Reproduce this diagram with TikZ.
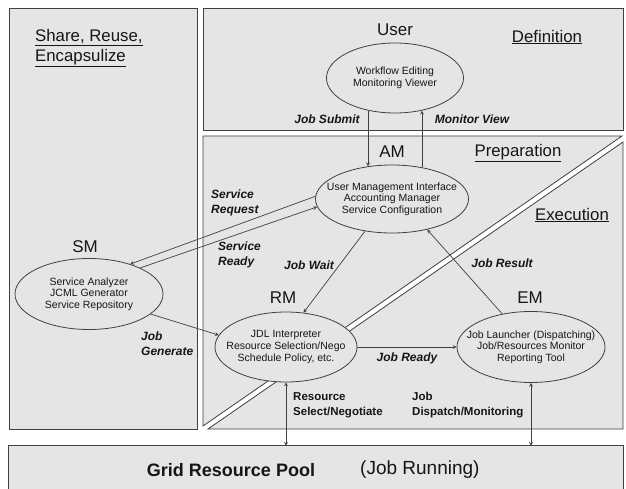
\documentclass[tikz,border=0pt]{standalone}
\usepackage{fontspec}
\setmainfont{Liberation Sans}
\usepackage{tikz}
\usetikzlibrary{shapes}
\usetikzlibrary{arrows}
\usetikzlibrary{positioning}
\definecolor{fond}{HTML}{E5E5E5}
\definecolor{trait}{HTML}{404040}
\definecolor{encre}{HTML}{161616}
\tikzstyle{panel}=[fill=fond,draw=trait,line width=0.8pt]
\tikzstyle{module}=[
        ellipse,
        draw=trait,
        fill=fond,
        line width=0.8pt,
        text=encre,
        inner xsep=-20pt,
        inner ysep=0pt,
        align=center,
        font=\fontsize{10.5}{11.7}\selectfont
]
\tikzstyle{heading}=[text=encre,inner sep=0pt,font=\fontsize{17}{20}\selectfont]
\tikzstyle{section}=[text=encre,inner sep=0pt,align=left,font=\fontsize{16.8}{20}\selectfont]
\tikzstyle{flowlabel}=[text=encre,inner sep=0pt,align=left,font=\fontsize{12}{15}\selectfont\bfseries\itshape]
\tikzstyle{access}=[text=encre,inner sep=0pt,align=left,font=\fontsize{11.5}{15}\selectfont\bfseries]
\tikzstyle{suite}=[->,>=stealth,draw=trait,line width=0.7pt]
\tikzstyle{twoway}=[<->,>=stealth,draw=trait,line width=0.7pt]

\begin{document}
\begin{tikzpicture}[x=1pt,y=-1pt]
\useasboundingbox (0,0) rectangle (626,489);
%Panels
\draw[panel] (9,8) rectangle (197,429);
\draw[panel] (203,8) rectangle (623,130);
\draw[panel] (203,136) -- (622,136) -- (203,426) -- cycle;
\draw[panel] (623,142) -- (623,429) -- (208,429) -- cycle;
\node[fill=fond,minimum width=614pt,minimum height=50pt,inner sep=0pt] (grid) at (316,471) {};
\draw[draw=trait,line width=0.8pt] (grid.south west) |- (grid.north east) -- (grid.south east);
%Titles
\node[section,anchor=west] (share) at (35,48) {\underline{Share, Reuse,}\\\underline{Encapsulize}};
\node[section] (definition) at (547,37) {\underline{Definition}};
\node[section] (preparation) at (518,153) {\underline{Preparation}};
\node[section] (execution) at (572,215) {\underline{Execution}};
\node[heading] (userhead) at (395,30) {User};
\node[heading] (amhead) at (392,152) {AM};
\node[heading] (smhead) at (85,247) {SM};
\node[heading] (rmhead) at (283,298) {RM};
\node[heading] (emhead) at (530,298) {EM};
%Modules
\node[module,minimum width=137pt,minimum height=70pt] (user) at (395,78) {Workflow Editing\\Monitoring Viewer};
\node[module,minimum width=153pt,minimum height=68pt] (am) at (392,199) {User Management Interface\\Accounting Manager\\Service Configuration};
\node[module,minimum width=148pt,minimum height=71pt] (sm) at (89,294) {Service Analyzer\\JCML Generator\\Service Repository};
\node[module,minimum width=142pt,minimum height=70pt] (rm) at (286,347) {JDL Interpreter\\Resource Selection/Nego\\Schedule Policy, etc.};
\node[module,minimum width=148pt,minimum height=71pt] (em) at (531,347) {Job Launcher (Dispatching)\\Job/Resources Monitor\\Reporting Tool};
%Drawing Edges
\draw[suite] ([xshift=-27pt,yshift=2.8pt]user.south) -- ([xshift=-24pt,yshift=-1.7pt]am.north);
\draw[suite] ([xshift=30pt,yshift=-2.7pt]am.north) -- ([xshift=27pt,yshift=2.8pt]user.south);
\draw[suite] (sm.27) -- (am.186);
\draw[suite] (am.178) -- (sm.36);
\draw[suite] (sm.-18) -- (rm.170);
\draw[suite] (am.230) -- (rm.63);
\draw[suite] (em.131) -- (am.-41);
\draw[suite] (rm.east) -- (em.west);
\draw[twoway] (rm.south) -- (rm.south |- grid.north);
\draw[twoway] (em.south) -- (em.south |- grid.north);
%Edge labels
\node[flowlabel] (jobsubmit) at (327,119) {Job Submit};
\node[flowlabel] (monitorview) at (472,119) {Monitor View};
\node[flowlabel,anchor=west] (servicerequest) at (211,203) {Service\\Request};
\node[flowlabel,anchor=west] (serviceready) at (218,255) {Service\\Ready};
\node[flowlabel] (jobwait) at (309,265) {Job Wait};
\node[flowlabel] (jobresult) at (502,263) {Job Result};
\node[flowlabel,anchor=west] (jobgenerate) at (141,344) {Job\\Generate};
\node[flowlabel] (jobready) at (407,358) {Job Ready};
\node[access,anchor=west] (selectlabel) at (293,405) {Resource\\Select/Negotiate};
\node[access,anchor=west] (dispatchlabel) at (412,405) {Job\\Dispatch/Monitoring};
\node[heading,font=\fontsize{18}{22}\selectfont\bfseries] (gridtitle) at (231,470) {Grid Resource Pool};
\node[heading,font=\fontsize{19}{22}\selectfont,anchor=west] (running) at (360,470) {(Job Running)};
\end{tikzpicture}
\end{document}
